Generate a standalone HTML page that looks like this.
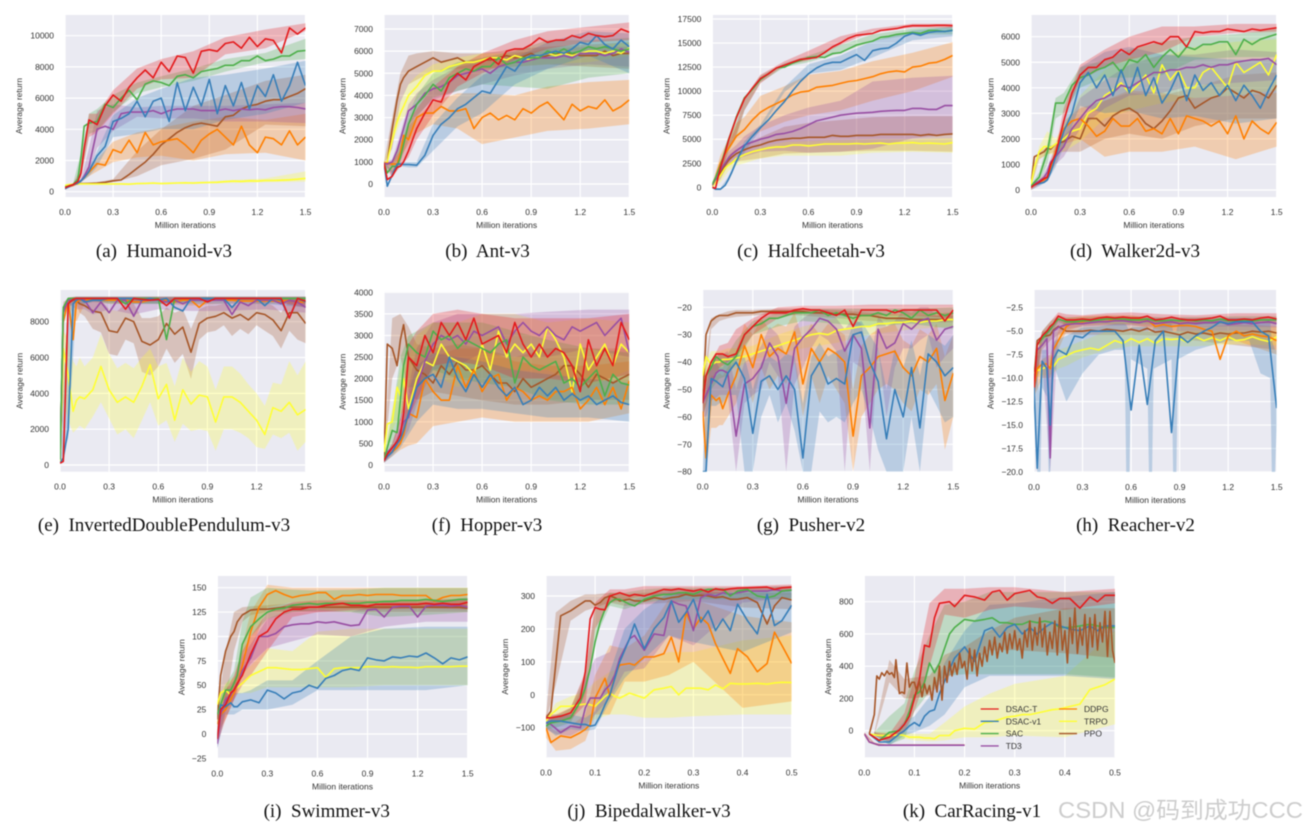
<!DOCTYPE html>
<html lang="en">
<head>
<meta charset="utf-8">
<title>Training curves</title>
<style>
html,body{margin:0;padding:0;background:#fff;width:1307px;height:832px;overflow:hidden}
svg{display:block;filter:blur(.45px)}
.cap{font-family:"Liberation Serif",serif;font-size:19px;fill:#111;text-anchor:middle}
.tick{font-family:"Liberation Sans",sans-serif;font-size:8.5px;fill:#333}
.wm{font-family:"Liberation Sans","Noto Sans CJK SC",sans-serif;font-size:23px;fill:#cdcdcd}
</style>
</head>
<body>
<svg id="figure" xmlns="http://www.w3.org/2000/svg" width="1307" height="832" viewBox="0 0 1307 832">
  <rect width="1307" height="832" fill="#fff"/>
  <g id="plots"></g>
  <text class="cap" x="164" y="257">(a)&#160; Humanoid-v3</text>
  <text class="cap" x="487.5" y="257">(b)&#160; Ant-v3</text>
  <text class="cap" x="811" y="257">(c)&#160; Halfcheetah-v3</text>
  <text class="cap" x="1135" y="257">(d)&#160; Walker2d-v3</text>
  <text class="cap" x="164" y="531">(e)&#160; InvertedDoublePendulum-v3</text>
  <text class="cap" x="487" y="531">(f)&#160; Hopper-v3</text>
  <text class="cap" x="811" y="531">(g)&#160; Pusher-v2</text>
  <text class="cap" x="1135.5" y="531">(h)&#160; Reacher-v2</text>
  <text class="cap" x="326.7" y="817">(i)&#160; Swimmer-v3</text>
  <text class="cap" x="649" y="817">(j)&#160; Bipedalwalker-v3</text>
  <text class="cap" x="972" y="817">(k)&#160; CarRacing-v1</text>
  <text class="wm" x="1058" y="818" textLength="245" lengthAdjust="spacingAndGlyphs">CSDN @码到成功CCC</text>
</svg>
<script>
// ---------- shared labels ----------
const seriesNames = ['DSAC-T','DSAC-v1','SAC','TD3','DDPG','TRPO','PPO'];
const xAxisTitle = 'Million iterations';
const yAxisTitle = 'Average return';

// ---------- iteration grids (million iterations) ----------
const xA = [0,.02,.05,.08,.1,.12,.15,.2,.25,.3,.35,.4,.45,.5,.55,.6,.65,.7,.75,.8,.85,.9,.95,1,1.05,1.1,1.15,1.2,1.25,1.3,1.35,1.4,1.45,1.5];
const xB = [0,.05,.1,.15,.2,.3,.45,.6,.8,1,1.25,1.5];
const xC = [0,.01,.03,.05,.07,.08,.09,.1,.11,.12,.13,.14,.15,.17,.18,.2,.22,.24,.255,.27,.285,.3,.315,.33,.345,.36,.375,.39,.41,.43,.45,.465,.48,.5];
const xD = [0,.02,.05,.08,.1,.13,.16,.2,.25,.3,.4,.5];
const xKBrown = [.01,.02,.025,.03,.035,.04,.045,.05,.055,.06,.063,.07,.075,.08,.085,.09,.095,.1,.105,.11,.115,.12,.125,.13,.135,.14,.145,.15,.155,.16,.165,.17,.175,.18,.185,.19,.195,.2,.205,.21,.215,.22,.225,.23,.235,.24,.245,.25,.255,.26,.265,.27,.275,.28,.285,.29,.295,.3,.305,.31,.315,.32,.325,.33,.335,.34,.345,.35,.355,.36,.365,.37,.375,.38,.385,.39,.395,.4,.405,.41,.415,.42,.425,.43,.435,.44,.445,.45,.455,.46,.465,.47,.475,.48,.485,.49,.495,.5];
const xHBlueBand = [0,.02,.04,.05,.08,.09,.1,.11,.13,.2,.3,.4,.5,.56,.57,.59,.6,.7,.71,.73,.74,.85,.86,.88,.89,1,1.2,1.33,1.4,1.46,1.47,1.49,1.5];

// ---------- tick values ----------
const xTicks15 = [0,.3,.6,.9,1.2,1.5];
const xTicks15Labels = ['0.0','0.3','0.6','0.9','1.2','1.5'];
const xTicks05 = [0,.1,.2,.3,.4,.5];
const xTicks05Labels = ['0.0','0.1','0.2','0.3','0.4','0.5'];
const aYTicks = [0,2000,4000,6000,8000,10000];
const aYLabels = ['0','2000','4000','6000','8000','10000'];
const bYTicks = [0,1000,2000,3000,4000,5000,6000,7000];
const bYLabels = ['0','1000','2000','3000','4000','5000','6000','7000'];
const cYTicks = [0,2500,5000,7500,10000,12500,15000,17500];
const cYLabels = ['0','2500','5000','7500','10000','12500','15000','17500'];
const dYTicks = [0,1000,2000,3000,4000,5000,6000];
const dYLabels = ['0','1000','2000','3000','4000','5000','6000'];
const eYTicks = [0,2000,4000,6000,8000];
const eYLabels = ['0','2000','4000','6000','8000'];
const fYTicks = [0,500,1000,1500,2000,2500,3000,3500,4000];
const fYLabels = ['0','500','1000','1500','2000','2500','3000','3500','4000'];
const gYTicks = [-20,-30,-40,-50,-60,-70,-80];
const gYLabels = ['−20','−30','−40','−50','−60','−70','−80'];
const hYTicks = [-2.5,-5,-7.5,-10,-12.5,-15,-17.5,-20];
const hYLabels = ['−2.5','−5.0','−7.5','−10.0','−12.5','−15.0','−17.5','−20.0'];
const iYTicks = [-25,0,25,50,75,100,125,150];
const iYLabels = ['−25','0','25','50','75','100','125','150'];
const jYTicks = [-100,0,100,200,300];
const jYLabels = ['−100','0','100','200','300'];
const kYTicks = [0,200,400,600,800];
const kYLabels = ['0','200','400','600','800'];

// ---------- (a) Humanoid-v3 ----------
const aRed=[250,350,450,650,1200,2800,4600,4300,5500,6200,5800,6700,7300,7800,7300,8300,7700,8700,8600,7600,9000,9100,9000,9500,9600,9200,9900,9300,9800,9700,8900,10500,10100,10500];
const aBlue=[200,300,450,550,700,900,1300,2300,2900,4500,4700,5000,5800,4800,5800,6000,4500,7000,5200,6700,5500,7200,5000,6800,5500,7000,5300,6800,6100,7500,5800,6800,8300,6800];
const aGreen=[300,350,450,800,2200,4200,4400,4500,5600,5400,6000,6500,5900,6900,7100,7000,6800,7400,7500,7300,7700,7800,7900,8100,8100,8400,8400,8700,8400,8500,8700,8700,9000,9050];
const aPurple=[200,300,450,550,700,1000,1600,4000,4200,4000,5000,5100,5100,5100,5200,5000,5200,5300,5300,5300,5200,5200,5200,5300,5200,5300,5250,5300,5250,5400,5450,5450,5400,5300];
const aOrange=[200,300,400,550,700,900,1250,1800,1700,2700,2500,3300,2500,3800,3000,3200,3300,3400,3000,2500,3300,3700,4000,3500,3000,4200,3000,2500,3500,3400,3000,3900,3000,3500];
const aYellow=[400,450,480,500,500,500,500,500,500,500,500,480,520,530,550,520,540,560,570,550,580,590,600,650,680,660,700,680,720,720,740,760,800,850];
const aBrown=[200,350,450,500,520,520,530,550,600,700,750,1100,1500,1900,2400,3000,3400,3800,4100,4300,4400,4300,4200,4800,4900,5300,5500,5600,5800,5900,5900,6100,6300,6600];
const aRedLo=[200,400,900,3500,3800,5000,6600,7200,7300,8800,9200,10300];
const aRedHi=[300,500,1500,5000,5000,6500,7900,8500,9000,9900,10400,10800];
const aBlueLo=[150,400,600,1000,1600,3500,3700,4000,4000,4600,5000,5700];
const aBlueHi=[250,500,800,1600,2600,4900,6000,6600,7300,7500,7900,8400];
const aGreenLo=[250,400,1000,3700,3900,5100,6300,6700,7100,7700,8300,8500];
const aGreenHi=[350,500,2500,5000,5300,6200,7000,7400,7900,8500,8900,9800];
const aPurpleLo=[150,400,600,1200,2800,3900,4800,4700,4700,4500,4500,4400];
const aPurpleHi=[250,500,800,2800,5200,5600,5400,5500,5500,5500,5600,5700];
const aOrangeLo=[150,350,600,1000,1300,1900,2200,2300,2000,2400,2500,2000];
const aOrangeHi=[250,450,800,1500,2100,3200,3800,4100,4500,4800,4600,5000];
const aYellowLo=[350,430,470,470,470,470,480,500,520,550,600,650];
const aYellowHi=[450,530,530,530,530,530,560,590,620,720,850,1300];
const aBrownLo=[150,400,500,500,500,600,1000,1700,2100,2700,4300,4200];
const aBrownHi=[250,500,540,560,600,800,2600,4000,5500,6200,7100,7500];

// ---------- (b) Ant-v3 ----------
const bRed=[950,200,350,750,800,1000,1500,2500,3200,3800,3700,4600,5000,4700,5300,5500,5700,5400,6000,6100,6100,6300,6600,6400,6500,6500,6700,6600,6800,6700,6650,6700,7000,6850];
const bBlue=[950,-100,400,900,900,880,880,850,1300,2200,2700,3000,3400,3600,3900,4200,4100,4700,5300,5100,5600,5800,5800,5900,6000,5900,6100,6400,6300,6700,6300,6100,6500,6200];
const bGreen=[950,500,800,800,1200,1800,2700,3600,4000,4500,4200,4800,5000,5200,5100,5300,5300,5700,5400,5500,5700,5700,5700,6000,5900,6100,5900,6000,6200,6100,6200,6100,6000,6100];
const bPurple=[950,900,1000,1500,2000,2500,3300,3600,4100,4300,4400,4600,4900,5000,5100,5200,5000,5300,5400,5500,5500,5600,5700,5700,5700,5800,5700,5900,5900,5900,5800,5900,6100,5950];
const bOrange=[950,950,900,900,1400,2200,2000,3000,3200,3200,3500,3300,3300,3400,2500,3000,3200,2900,3100,2900,3400,3200,3500,3700,3300,2900,3600,3300,3500,3400,3800,3300,3500,3800];
const bYellow=[950,1000,2000,2800,3200,3500,4000,4400,4900,5100,5100,5300,5400,5500,5500,5600,5700,5700,5600,5800,5700,5600,5800,5900,5800,5900,5800,5900,6000,6000,5900,6000,5900,6150];
const bBrown=[950,1000,2500,3800,4500,4800,5100,5300,5500,5700,5500,5600,5700,5500,5500,5600,5600,5700,5800,5700,5750,5900,5700,5800,5900,5900,5900,5800,5800,5800,6000,5800,5900,5900];
const bRedLo=[900,300,800,1200,2000,3100,4400,5000,5600,6100,6400,6500];
const bRedHi=[1000,1000,1500,2800,3400,4400,5300,5900,6500,6900,7100,7300];
const bBlueLo=[900,400,800,750,750,1500,2600,3200,4500,5200,5800,5000];
const bBlueHi=[1000,600,1000,1000,1000,2700,3900,4900,5700,6400,6900,6800];
const bGreenLo=[900,500,1000,2000,3000,3900,4200,4500,4400,4300,4800,5000];
const bGreenHi=[1000,900,1800,3100,4000,5000,5500,5700,6000,6500,6500,6600];
const bPurpleLo=[900,900,1500,2700,3100,3800,4200,4500,4900,5200,5400,5300];
const bPurpleHi=[1000,1100,2300,3600,4100,4700,5300,5500,5900,6100,6200,6200];
const bOrangeLo=[900,800,1200,1800,2300,2700,2500,1800,2100,2400,2500,2700];
const bOrangeHi=[1000,1000,1900,2600,3000,3700,4100,4100,4000,4400,4600,4700];
const bYellowLo=[900,1800,2800,3300,3800,4500,5000,5200,5300,5400,5500,5800];
const bYellowHi=[1000,2300,3700,4500,4900,5400,5700,5900,5900,6100,6200,6400];
const bBrownLo=[900,1600,3700,4500,4700,5100,5200,5200,5300,5400,5300,5200];
const bBrownHi=[1000,3000,5000,5800,5900,6000,5900,5900,6100,6200,6300,6400];

// ---------- (c) Halfcheetah-v3 ----------
const cRed=[0,-100,2000,3600,4800,5800,7200,9200,10300,11300,11800,12400,12700,13000,13300,13400,13500,14000,14600,15000,15500,15800,15900,16000,16300,16400,16500,16700,16800,16800,16800,16850,16850,16800];
const cBlue=[0,-200,-200,200,800,1500,2700,4300,5300,6200,7000,8000,8900,10000,11000,11800,12400,12800,13000,13000,13400,13800,13200,14200,14400,14500,15000,15700,16000,15800,16100,16200,16200,16300];
const cGreen=[300,1000,2200,3800,4900,5800,7300,9300,10200,11200,11800,12400,12500,12900,13200,13500,13600,13500,13900,14000,14400,14800,15000,15200,15600,15700,15900,16000,16100,16000,16300,16300,16200,16350];
const cPurple=[200,800,1800,2500,3000,3400,3800,4400,4700,5000,5200,5500,5600,5800,6100,6500,6900,7100,7300,7500,7600,7700,7750,7800,7900,7950,8000,8000,8200,8200,8100,8100,8500,8500];
const cOrange=[300,1000,2500,3500,4000,4500,5300,6000,7000,7800,8300,8700,9100,9600,9900,10000,10400,10500,10600,10800,11000,11100,11300,11500,11800,12000,12100,12000,12500,12600,12900,13000,13300,13700];
const cYellow=[100,500,1200,2000,2300,2500,3000,3400,3700,3900,4100,4200,4200,4400,4400,4300,4400,4500,4500,4500,4500,4550,4500,4550,4600,4500,4600,4600,4650,4550,4600,4550,4500,4650];
const cBrown=[100,700,1500,2300,2800,3100,3500,3900,4200,4400,4700,4900,5000,5100,5100,5200,5200,5200,5400,5300,5300,5400,5400,5400,5500,5500,5500,5500,5500,5400,5500,5400,5500,5550];
const cRedLo=[0,1200,3800,5500,8000,10800,12700,13200,14800,16200,16600,16600];
const cRedHi=[0,1800,4500,6400,9300,11700,13100,14200,15700,16500,17000,17000];
const cBlueLo=[0,-300,600,2400,3600,6000,9900,11800,12200,13500,15300,15700];
const cBlueHi=[0,-100,1100,2900,4800,6500,10400,12800,13700,15200,16300,16700];
const cGreenLo=[200,1300,3700,5200,8000,10900,12500,13000,14000,15200,15900,15900];
const cGreenHi=[400,2000,4800,6800,9300,11600,12900,13700,14800,15900,16500,16700];
const cPurpleLo=[100,800,2400,3000,3200,3700,3800,3600,3700,4000,5100,5500];
const cPurpleHi=[300,2000,3700,4400,5300,6400,7500,8300,9000,11000,11400,11600];
const cOrangeLo=[200,1200,2400,4000,4600,5800,6800,7500,8000,9000,10000,11500];
const cOrangeHi=[400,3300,5000,6700,7300,9500,10500,11700,12100,13100,14000,15100];
const cYellowLo=[0,500,1700,2300,2500,3000,3300,3300,3300,3600,3700,3600];
const cYellowHi=[200,1000,2500,3000,3500,4200,4700,4800,4900,5000,5000,5100];
const cBrownLo=[0,1000,2300,2700,2800,3000,3500,3600,3700,3800,3800,3700];
const cBrownHi=[200,1800,3300,4000,4500,5200,6300,6700,7000,7300,7400,7400];

// ---------- (d) Walker2d-v3 ----------
const dRed=[100,200,300,450,500,1000,1400,2700,3800,4500,4800,4800,5100,5200,5500,5300,5600,5700,5800,5700,6000,6000,5600,6200,6150,6200,6200,6300,6250,6200,6300,6250,6300,6350];
const dBlue=[100,200,250,300,400,700,1300,2300,3000,4200,4600,4000,4500,3700,4700,3800,4800,3700,4400,3400,3900,4600,3500,4500,3900,4200,3700,4100,3500,4100,3700,3200,3900,4500];
const dGreen=[150,300,500,1100,1500,2200,3400,3400,4100,4400,4500,4700,4800,5000,4600,5100,5000,5300,4800,5200,5500,5200,5600,5500,5700,5700,5800,5800,5300,5900,5700,5900,6000,6100];
const dPurple=[150,250,350,500,700,1100,1300,1700,2400,2800,3200,3500,3600,3800,4100,4000,4200,4400,4600,4600,4700,4700,4800,4800,4900,4800,4900,4900,5000,5050,5100,5100,5150,4900];
const dOrange=[100,200,300,400,500,800,1500,2400,2700,2800,2500,2100,2300,2800,2500,2500,2800,2300,2400,2200,2800,2200,2900,2800,2700,2500,2700,2200,2900,2000,2700,2400,2200,2650];
const dYellow=[200,900,1500,1700,1700,1650,1800,2000,2300,2400,3000,3200,3700,3900,4200,3800,4100,4500,3800,4900,4300,4700,4000,4000,4600,4800,4400,4000,5000,4600,4800,5000,4500,5300];
const dBrown=[200,1300,1400,1500,1650,1600,1800,1900,2100,2000,2800,2800,2500,2900,3100,3200,3000,2600,2400,2700,3100,3600,3700,3200,3400,3600,3700,4000,3800,3600,3900,3800,3600,4100];
const dRedLo=[0,200,400,1200,2800,4300,4800,5100,5400,6000,6150,6200];
const dRedHi=[200,400,600,1600,3200,4900,5500,6000,6400,6400,6500,6500];
const dBlueLo=[0,150,350,900,1700,3300,3000,3100,2800,2900,2600,2800];
const dBlueHi=[200,350,600,1600,2800,4800,5400,5600,5300,5200,5100,5100];
const dGreenLo=[100,350,1000,2800,3000,4000,4400,4400,4500,5100,5200,5200];
const dGreenHi=[200,700,1800,3600,3800,4800,5100,5500,5800,6000,6100,6300];
const dPurpleLo=[100,300,600,1000,1300,2400,3200,3700,3800,4100,4200,4300];
const dPurpleHi=[200,400,900,1700,2200,3600,4300,4900,5300,5300,5500,5400];
const dOrangeLo=[50,250,400,1000,1800,2000,1300,1500,1500,1700,1200,1700];
const dOrangeHi=[150,400,700,1800,2700,3200,3500,3900,3800,3600,3700,3800];
const dYellowLo=[100,1200,1400,1400,1500,1900,2800,3100,3400,3600,3700,3900];
const dYellowHi=[300,1700,2300,2000,2500,3700,4700,5200,5200,5600,5800,5900];
const dBrownLo=[100,1200,1400,1500,1500,1500,2000,2200,2000,2500,2800,2800];
const dBrownHi=[300,1500,1700,1800,2100,2800,3500,3800,3700,4000,4500,4600];

// ---------- (e) InvertedDoublePendulum-v3 ----------
const eRed=[100,200,9000,9250,9300,9300,9300,9300,9300,9300,9300,8700,9300,9250,9200,9250,8900,9300,9300,9300,9300,9100,9300,9300,9300,9300,9300,9300,9300,9300,9300,8200,9300,9150];
const eBlue=[100,400,2000,9000,9200,9300,9100,9200,9200,9300,9300,9300,9300,9200,9300,9200,9300,8800,8600,9300,9300,9300,9300,9300,8800,9300,9300,9300,8900,9300,9200,8200,9300,9100];
const eGreen=[300,8800,9300,9300,9300,9300,9300,9300,9300,9300,9300,9000,9300,9300,9300,9300,7000,9300,9300,9300,9300,9300,9300,9300,9300,9300,9300,9300,9300,9300,9300,9300,9300,9300];
const ePurple=[300,8500,9200,9250,9250,9250,9200,8500,9100,8500,9200,9200,8300,9200,9200,9200,9100,9200,9000,9200,9200,9200,9200,9200,8400,9100,8900,9200,9200,9200,9000,9200,9100,8800];
const eOrange=[300,8000,9200,7000,9100,9200,9200,9200,9200,9200,9200,9200,9100,9100,9200,9200,9200,9100,9200,9200,8800,9200,9200,9200,9200,9150,9150,9150,9150,9150,9150,9200,9100,9100];
const eYellow=[200,6500,5000,3000,3600,3800,3700,4200,5500,4200,3500,3800,3500,4400,5600,3700,4500,2500,4200,3400,3900,3800,2400,3800,3800,3500,3000,2500,1700,3200,3000,3500,2800,3100];
const eBrown=[300,8700,9100,9200,9200,9000,8900,8600,8500,7500,7400,8200,8000,6900,6700,7000,7900,7300,7700,6300,7900,8200,8300,8500,8200,8400,8100,8500,8400,8100,7500,8500,8500,7900];
const eRedLo=[100,9000,9200,9200,9200,9200,9100,9200,9200,9200,9200,8800];
const eRedHi=[200,9350,9400,9400,9400,9400,9400,9400,9400,9400,9400,9400];
const eBlueLo=[100,1500,9000,9000,9100,9100,9000,9000,9000,9000,9000,8800];
const eBlueHi=[200,9300,9400,9400,9400,9400,9400,9400,9400,9400,9400,9400];
const eGreenLo=[200,9200,9200,9200,9200,9000,9000,9000,9100,9200,9100,9100];
const eGreenHi=[300,9350,9400,9400,9400,9400,9400,9400,9400,9400,9400,9400];
const ePurpleLo=[200,9000,8700,8700,8400,8700,8400,8700,8600,8600,8700,8500];
const ePurpleHi=[300,9300,9350,9350,9350,9350,9350,9350,9350,9350,9350,9350];
const eOrangeLo=[200,9000,8000,9000,9100,9000,9000,9000,8900,9000,9000,9000];
const eOrangeHi=[300,9250,9300,9300,9300,9300,9300,9300,9300,9300,9300,9300];
const eYellowLo=[100,3500,2500,1800,2000,2200,2000,2700,3500,2600,1700,2000,1500,2500,3500,2200,2500,1300,2300,1900,2000,1900,800,2000,2000,1800,1500,1000,900,1700,1500,1800,800,1300];
const eYellowHi=[300,7500,7000,5800,5500,6000,5500,6000,7300,6200,5400,5700,5400,6000,6500,5500,5700,4400,6000,5200,5800,5500,4200,5500,5500,5100,4500,4000,3300,4600,4500,5800,5000,5800];
const eBrownLo=[200,7800,8800,9000,9000,8500,8300,7600,7400,6200,6100,7000,6800,5200,5000,5500,6500,5700,6200,4800,7000,7400,7500,7800,7200,7600,7300,7800,7500,7200,6500,7500,7000,6800];
const eBrownHi=[300,9100,9300,9300,9300,9250,9250,9200,9200,8700,8600,9000,9000,8200,8200,8300,8800,8500,8700,7600,8700,8900,8900,9000,8900,9000,9000,9200,9100,8900,8500,9200,9200,9100];

// ---------- (f) Hopper-v3 ----------
const fRed=[100,250,400,550,700,1200,2500,2300,3000,2600,3300,3000,3300,2900,3400,2800,2900,3000,2600,3300,2800,2500,2800,2500,2700,2600,2300,1700,2900,2300,2700,2300,3300,2900];
const fBlue=[100,200,300,500,600,800,1200,1800,2000,2100,1800,2500,2000,1700,2100,1800,2100,1800,1600,1800,1400,1500,1800,1600,1800,1500,1650,1500,1600,1400,1500,1600,1450,1400];
const fGreen=[100,400,800,750,1500,2300,2800,2600,2500,3100,2900,3000,2700,2900,2800,2700,2600,2800,2900,1900,2500,2300,2200,2300,2400,1900,2000,1800,2000,2200,1600,2100,1900,1850];
const fPurple=[100,300,400,500,800,1000,1100,1800,2400,2800,3000,2900,3000,2800,3100,3000,3100,3200,2800,3100,3300,3100,3000,3200,3000,2900,3200,3100,3200,3300,3000,3200,3400,2600];
const fOrange=[100,250,300,400,500,700,1200,1100,2000,1700,1500,1500,2300,1800,2200,1700,2000,2100,1500,1800,1700,1500,1600,1500,1700,1700,1800,1300,1500,1800,1400,1800,1300,1950];
const fYellow=[300,950,1000,1800,1600,2000,1300,2000,2400,2300,2800,2500,2400,2300,2100,2800,2200,3100,2500,2800,2600,2800,2500,3200,2900,2500,1700,2800,2200,2500,2800,2300,2800,2600];
const fBrown=[100,2800,2700,2300,2900,3250,2500,2200,2100,1900,2300,2100,2400,2200,2200,2300,2100,1900,1900,1700,2000,1800,1900,2000,2100,2300,2300,2100,1800,2100,2000,1900,2000,2100];
const fRedLo=[50,300,500,1100,1500,2300,2400,2300,2000,2000,1900,2100];
const fRedHi=[150,500,1100,2800,3100,3500,3600,3500,3400,3400,3400,3500];
const fBlueLo=[50,200,400,700,1000,1400,1300,1300,1200,1100,1100,1000];
const fBlueHi=[150,400,800,1700,2300,2600,2500,2400,2200,2100,2000,1900];
const fGreenLo=[50,400,1000,1800,1800,2200,2000,1900,1800,1500,1400,1400];
const fGreenHi=[150,1200,2500,3000,3100,3300,3300,3300,3100,2900,2700,2600];
const fPurpleLo=[50,250,500,800,1400,2200,2300,2600,2500,2500,2700,2500];
const fPurpleHi=[150,500,1100,1800,2700,3300,3500,3500,3500,3550,3600,3600];
const fOrangeLo=[50,200,350,450,500,900,1000,1100,1000,1000,1000,1200];
const fOrangeHi=[150,400,800,1600,2000,2500,2700,2700,2400,2300,2300,2400];
const fYellowLo=[100,800,1200,1200,1700,2100,1800,2200,2200,2200,1800,2200];
const fYellowHi=[300,1300,2200,2500,3000,3300,3300,3500,3500,3300,3400,3300];
const fBrownLo=[100,2000,2500,1700,1500,1700,1600,1500,1400,1400,1500,1500];
const fBrownHi=[300,3400,3500,3200,2800,2700,2800,2700,2500,2700,2700,2700];

// ---------- (g) Pusher-v2 ----------
const gRed=[-55,-45,-40,-37,-37,-37,-38,-37,-30,-27,-24,-22,-22,-22,-21,-20.5,-21,-21,-22,-23,-21,-27,-21,-21,-21,-21,-22,-21,-21,-21,-21,-21,-25,-21];
const gBlue=[-80,-80,-46,-47,-48,-49,-44,-40,-46,-66,-47,-45,-50,-45,-50,-75,-45,-40,-48,-46,-48,-30,-29,-40,-47,-68,-50,-60,-42,-64,-37,-40,-45,-42];
const gGreen=[-55,-45,-42,-38,-39,-40,-41,-38,-30,-27,-26,-24,-24,-23,-22,-22,-22,-21,-23,-22,-23,-24,-23,-23,-22,-23,-21,-22,-24,-21,-23,-22,-23,-22];
const gPurple=[-55,-52,-48,-44,-43,-43,-44,-67,-48,-46,-42,-33,-38,-55,-35,-31,-28,-24,-25,-28,-36,-30,-35,-64,-28,-35,-33,-26,-28,-25,-24,-32,-28,-27];
const gOrange=[-58,-75,-52,-54,-53,-57,-52,-45,-34,-42,-30,-38,-35,-37,-29,-48,-35,-40,-35,-37,-40,-67,-45,-42,-38,-37,-36,-42,-45,-38,-40,-35,-54,-44];
const gYellow=[-45,-38,-41,-40,-40,-39,-39,-38.5,-38,-37,-36,-35,-34,-33,-32,-31,-30,-29.5,-30,-28.5,-28,-27.5,-27,-27,-26,-26,-25.5,-25.5,-25,-25.5,-25,-25,-24.5,-24.5];
const gBrown=[-55,-30,-25,-23.5,-23,-23,-23,-22,-22,-22,-21.5,-21.5,-21.5,-21.5,-21.5,-21.5,-22,-22,-22,-22.5,-22.5,-22.5,-23,-23,-23.5,-24,-24,-24,-24.5,-24.5,-24.5,-24.5,-24.5,-24.5];
const gRedLo=[-60,-48,-42,-40,-38,-30,-24,-22,-23,-23,-23,-24];
const gRedHi=[-50,-40,-34,-33,-28,-24,-20,-19.5,-19.5,-19,-19,-19];
const gBlueLo=[-80,-80,-56,-56,-55,-55,-52,-52,-80,-80,-60,-52,-62,-55,-65,-80,-80,-58,-62,-60,-62,-55,-50,-60,-72,-80,-80,-80,-60,-80,-50,-56,-62,-60];
const gBlueHi=[-80,-50,-40,-40,-42,-42,-38,-37,-38,-50,-40,-38,-40,-37,-38,-55,-38,-33,-38,-36,-35,-26,-25,-30,-35,-50,-35,-42,-32,-45,-30,-32,-34,-30];
const gGreenLo=[-60,-50,-46,-45,-40,-30,-27,-25,-26,-27,-26,-28];
const gGreenHi=[-50,-40,-37,-37,-32,-25,-22,-20.5,-20.5,-20.5,-20.5,-20];
const gPurpleLo=[-60,-60,-54,-53,-52,-52,-52,-80,-55,-52,-50,-40,-45,-80,-48,-42,-35,-30,-32,-36,-80,-40,-42,-80,-35,-60,-42,-35,-35,-32,-30,-42,-38,-35];
const gPurpleHi=[-50,-44,-42,-38,-37,-37,-36,-50,-40,-38,-34,-27,-30,-38,-27,-24,-22,-21,-21,-24,-28,-24,-26,-42,-23,-27,-25,-21,-22,-20,-20,-23,-22,-22];
const gOrangeLo=[-60,-80,-64,-64,-63,-63,-60,-55,-45,-55,-42,-50,-45,-48,-40,-60,-45,-55,-45,-50,-55,-80,-60,-55,-50,-48,-50,-55,-58,-50,-52,-48,-72,-60];
const gOrangeHi=[-55,-55,-45,-45,-44,-45,-42,-36,-26,-30,-24,-28,-26,-27,-22,-32,-26,-30,-26,-28,-30,-50,-34,-30,-28,-27,-26,-32,-34,-28,-30,-26,-38,-30];
const gYellowLo=[-50,-43,-43,-43,-42,-39,-37,-35,-33,-30,-28,-27];
const gYellowHi=[-42,-36,-36,-35,-35,-34,-30,-27,-24,-23,-22,-22];
const gBrownLo=[-60,-28,-25,-24,-23.5,-23,-22.5,-23,-24,-25,-25.5,-25.5];
const gBrownHi=[-50,-24,-22.5,-21.5,-21,-21,-20.5,-20.5,-21,-22,-23,-23];

// ---------- (h) Reacher-v2 ----------
const hRed=[-11,-6.5,-5.5,-5,-4.5,-4.2,-3.4,-3.8,-3.8,-3.7,-3.8,-3.6,-3.5,-3.6,-3.5,-3.6,-3.6,-3.4,-3.8,-3.7,-3.5,-3.7,-3.8,-3.8,-3.7,-3.6,-3.4,-3.8,-3.8,-3.7,-3.8,-3.6,-3.5,-3.7];
const hBlue=[-11,-19.6,-8.2,-9,-15,-8,-7,-7.5,-5.5,-5.7,-5,-5,-5,-5,-6,-13.4,-6.5,-12.8,-6,-5,-15.8,-5.5,-6.2,-5.5,-5,-4.6,-4,-4.2,-4,-4,-4,-5,-5.5,-13.2];
const hGreen=[-11,-6.5,-5.8,-5.2,-4.8,-4.3,-3.7,-4,-4,-3.9,-3.9,-3.8,-3.7,-3.7,-3.7,-3.8,-3.8,-3.7,-3.9,-3.9,-3.8,-3.9,-3.8,-3.9,-3.8,-3.9,-3.7,-3.9,-3.9,-3.8,-3.9,-3.8,-3.8,-3.8];
const hPurple=[-11,-7,-6.5,-5.8,-18.5,-5,-4.6,-4.3,-4.2,-4.2,-4.1,-4,-4,-3.9,-3.9,-4,-4.1,-3.9,-4.2,-4.1,-4,-4.2,-4.1,-4.2,-4.1,-4.1,-4,-4.3,-4.2,-4.1,-4.2,-4.1,-4,-4.2];
const hOrange=[-11,-9,-8.5,-8.5,-9,-7,-6,-4.5,-4,-4,-3.8,-3.8,-3.7,-3.9,-3.7,-3.8,-3.7,-3.8,-4.5,-4.3,-4.5,-4.4,-4.4,-4.5,-4.8,-5,-8,-5.5,-5,-5.5,-5.3,-5.5,-5.6,-6];
const hYellow=[-9.5,-9.2,-9,-8.8,-8.7,-8.8,-8,-7.6,-7.2,-7,-6.8,-7,-6.5,-6,-6.3,-5.8,-6.2,-5.8,-6.3,-5.8,-5.9,-5.8,-6.2,-5.6,-6,-5.7,-6,-5.6,-6,-5.9,-5.6,-5.9,-6.1,-5.6];
const hBrown=[-10,-6,-5.6,-5.5,-5.4,-4.9,-4.5,-5,-5,-5,-4.9,-5,-4.8,-4.9,-5,-4.8,-5,-4.7,-5.1,-5,-5.2,-5.4,-5.1,-5.3,-5.2,-5.4,-5.2,-5.3,-5.2,-5.2,-5,-5.1,-5,-5.2];
const hRedLo=[-12,-6,-5,-4,-4.3,-4.2,-4,-4,-4.2,-4.2,-4.1,-4.2];
const hRedHi=[-9,-5,-4,-3,-3.2,-3.3,-3.1,-3,-3.2,-3.3,-3.1,-3.1];
const hBlueLo=[-12,-20,-20,-11,-12,-20,-20,-11,-9,-12.5,-9.5,-7.5,-7,-7,-20,-20,-8,-9,-20,-20,-9,-8,-20,-20,-8,-7,-6,-6,-9.5,-10,-20,-20,-15];
const hBlueHi=[-9,-10,-12,-7,-7,-9,-9,-6.5,-6,-5.5,-4.6,-4.5,-4.2,-4.2,-4.3,-5,-4.6,-4.5,-5,-5,-4.5,-4.2,-5,-5,-4.2,-4,-3.6,-3.6,-4,-4,-6,-7,-7];
const hGreenLo=[-12,-6.5,-5.5,-4,-4.4,-4.2,-4.2,-4.2,-4.3,-4.3,-4.2,-4.2];
const hGreenHi=[-9,-5,-4,-3.3,-3.5,-3.5,-3.4,-3.4,-3.5,-3.5,-3.4,-3.4];
const hPurpleLo=[-12,-8,-20,-5.3,-4.8,-4.5,-4.4,-4.4,-4.6,-4.5,-4.5,-4.6];
const hPurpleHi=[-9,-6,-4.7,-3.8,-3.7,-3.7,-3.5,-3.5,-3.6,-3.6,-3.6,-3.6];
const hOrangeLo=[-12,-10,-10,-7,-5,-4.4,-4.3,-4.3,-4.9,-5.2,-6,-7.5];
const hOrangeHi=[-9,-8,-7.5,-5,-3.6,-3.4,-3.3,-3.3,-3.8,-3.9,-4.2,-4.5];
const hYellowLo=[-10,-9.7,-9.7,-9,-8.7,-7.8,-7,-6.6,-6.6,-6.6,-6.4,-6.5];
const hYellowHi=[-9,-8.6,-7.8,-7,-6.7,-6,-5,-5,-5,-5,-5,-5];
const hBrownLo=[-12,-7,-6,-5.4,-5.3,-5.4,-5.4,-5.4,-5.5,-6,-6.5,-7];
const hBrownHi=[-9,-5,-4.8,-4,-4.2,-4.2,-4.1,-4.1,-4.2,-4.5,-4.3,-4.2];

// ---------- (i) Swimmer-v3 ----------
const iRed=[-5,25,30,42,45,52,60,82,100,105,118,125,128,128,130,130,132,133,134,132,132,131,133,133,133,133,133,133,134,133,134,133,133,135];
const iBlue=[-5,30,28,32,28,28,33,35,32,45,42,36,42,44,50,47,57,60,65,67,65,78,76,75,79,78,80,79,83,78,72,78,76,79];
const iGreen=[20,30,45,45,52,60,92,110,118,125,128,129,132,133,134,133,134,134,134,134,134,135,135,136,136,137,137,137,138,137,136,137,138,138];
const iPurple=[-10,20,35,40,45,50,65,78,100,100,103,110,112,113,113,115,114,115,113,111,112,127,128,120,130,131,131,120,131,132,132,131,132,130];
const iOrange=[10,20,25,35,42,50,70,105,130,143,147,143,140,142,143,145,145,138,142,142,143,142,143,143,143,142,142,142,142,136,140,142,142,143];
const iYellow=[30,42,45,40,44,48,52,60,64,68,68,67,66,66,67,68,58,67,68,68,68,69,69,68.5,69,68.5,68.5,68,69,69,69,69,69.5,69.5];
const iBrown=[15,60,85,100,105,115,122,127,128,128,129,130,130,130,130,130,130,130,130,130,130,130,130,130,130,130,130,130,130,130,130,130,130,129];
const iRedLo=[-10,15,35,50,60,85,120,125,127,128,129,128];
const iRedHi=[10,45,60,85,100,125,135,137,137,137,138,138];
const iBlueLo=[-15,20,20,25,25,25,30,45,45,45,45,50];
const iBlueHi=[5,38,42,42,45,55,55,75,100,108,110,110];
const iGreenLo=[10,25,40,80,100,118,125,127,125,120,122,125];
const iGreenHi=[30,50,65,115,140,150,148,147,148,150,150,150];
const iPurpleLo=[-15,25,35,60,72,88,95,102,100,110,115,115];
const iPurpleHi=[5,45,55,80,92,118,128,128,125,135,135,140];
const iOrangeLo=[0,15,35,60,85,130,135,132,130,130,130,130];
const iOrangeHi=[20,35,55,90,125,153,150,150,150,150,150,150];
const iYellowLo=[20,38,40,42,42,48,48,48,48,50,50,50];
const iYellowHi=[35,52,58,65,70,88,85,105,108,108,108,108];
const iBrownLo=[10,30,85,115,122,125,126,125,125,125,125,125];
const iBrownHi=[20,85,125,130,131,132,134,134,133,133,134,133];

// ---------- (j) Bipedalwalker-v3 ----------
const jRed=[-70,-70,-65,-55,-10,70,230,265,260,258,300,305,310,300,305,300,310,320,318,322,318,315,320,312,322,318,322,324,325,326,327,320,325,327];
const jBlue=[-85,-80,-80,-85,-90,-90,-95,-92,-65,-30,0,50,100,170,215,140,200,235,285,220,250,290,220,255,195,230,195,275,225,185,305,210,225,272];
const jGreen=[-95,-85,-80,-70,-20,20,80,160,220,260,280,290,290,275,270,290,300,305,305,310,310,305,315,320,320,320,300,315,320,300,295,300,315,318];
const jPurple=[-85,-90,-115,-95,-100,-40,-10,-10,-10,15,30,60,110,170,180,135,185,180,285,275,270,195,295,305,300,310,305,310,315,315,315,320,315,318];
const jOrange=[-100,-145,-125,-130,-115,-105,-90,-10,20,50,-5,60,90,95,90,115,115,125,175,100,250,200,235,215,155,110,65,140,115,70,95,190,150,95];
const jYellow=[-80,-60,-35,-35,-30,-28,-30,-35,-20,-5,5,-5,-10,5,0,-10,15,20,25,0,20,20,20,15,30,18,35,33,33,35,32,36,38,37];
const jBrown=[-70,-50,240,255,275,285,285,272,280,295,300,295,285,290,285,285,295,290,295,298,305,300,302,300,295,298,290,290,295,280,215,270,295,288];
const jRedLo=[-80,-80,-75,-30,200,280,290,300,305,300,315,315];
const jRedHi=[-60,-60,-40,70,280,320,320,330,330,330,330,335];
const jBlueLo=[-100,-125,-105,-110,-105,-20,50,110,180,160,130,190];
const jBlueHi=[-70,-60,-60,-70,-50,70,200,260,310,310,310,320];
const jGreenLo=[-105,-100,-85,0,170,270,260,280,290,290,290,290];
const jGreenHi=[-85,-65,-40,60,260,310,310,320,325,325,325,330];
const jPurpleLo=[-105,-120,-125,-100,-60,-10,70,80,180,150,280,295];
const jPurpleHi=[-70,-70,-60,50,110,130,280,300,320,320,325,330];
const jOrangeLo=[-130,-170,-165,-140,-60,-60,40,40,60,100,-40,-20];
const jOrangeHi=[-90,-110,-95,-60,60,150,140,180,290,290,240,220];
const jYellowLo=[-85,-90,-85,-85,-75,-60,-60,-70,-70,-65,-60,-60];
const jYellowHi=[-75,-25,-5,10,40,70,85,100,130,130,165,180];
const jBrownLo=[-80,30,225,255,265,280,270,275,280,285,265,260];
const jBrownHi=[-60,250,285,305,305,310,305,310,310,315,310,310];

// ---------- (k) CarRacing-v1 ----------
const kRed=[null,-20,-60,-40,5,40,90,200,320,530,520,700,790,800,770,840,830,810,860,870,810,850,860,870,830,820,790,820,820,760,830,800,840,840];
const kBlue=[null,-20,-70,-70,-20,0,30,50,30,90,120,130,230,380,450,520,430,620,640,580,640,660,600,640,600,640,670,650,630,620,650,620,650,650];
const kGreen=[null,-20,-60,-10,0,40,120,220,240,300,420,360,420,600,640,690,680,690,700,670,670,660,660,680,670,680,670,640,640,650,660,650,640,640];
const kPurple=[-20,-70,-90,-90,-90,-90,-90,-90,-90,-90,-90,-90,-90,-90,-90,-90,null,null,null,null,null,null,null,null,null,null,null,null,null,null,null,null,null,null];
const kOrange=[-20,-70,-90,-90,-90,-90,-90,-90,-90,-90,-90,-90,-90,-90,-90,-90,null,null,null,null,null,null,null,null,null,null,null,null,null,null,null,null,null,null];
const kYellow=[null,-20,-30,-30,-25,-30,-40,-40,-40,-45,-45,-50,-30,-30,0,15,10,50,55,70,85,90,100,100,110,120,130,135,150,165,255,270,285,320];
const kBrownMean=[-20,100,340,320,360,340,370,350,360,330,440,230,240,230,420,270,300,300,240,310,210,290,230,280,190,330,240,400,190,400,300,430,340,420,350,480,390,430,320,510,370,500,340,480,400,520,430,560,470,580,450,540,490,610,480,600,510,620,500,570,450,620,520,680,500,640,530,700,520,660,470,610,510,680,470,740,500,620,420,700,540,760,480,640,530,720,450,700,520,720,500,670,550,740,460,740,500,420];
const kRedLo=[null,-30,-70,-10,120,400,720,700,750,770,750,790];
const kRedHi=[null,-10,-20,110,330,790,880,880,890,890,860,880];
const kBlueLo=[null,-30,-90,-30,-10,30,100,270,340,340,340,320];
const kBlueHi=[null,-10,-50,60,90,210,420,620,780,790,830,860];
const kGreenLo=[null,-30,-85,-50,120,240,340,350,350,350,350,330];
const kGreenHi=[null,-10,90,170,370,590,780,800,860,860,860,860];
const kPurpleLo=[-30,-85,-92,-92,-92,-92,-92,-92,null,null,null,null];
const kPurpleHi=[-10,-75,-88,-88,-88,-88,-88,-88,null,null,null,null];
const kOrangeLo=[-30,-85,-92,-92,-92,-92,-92,-92,null,null,null,null];
const kOrangeHi=[-10,-75,-88,-88,-88,-88,-88,-88,null,null,null,null];
const kYellowLo=[null,-30,-50,-50,-60,-65,-60,-40,-40,-30,-40,40];
const kYellowHi=[null,-10,-10,-10,-20,-20,50,150,230,290,340,620];
const kBrownLo=[null,-30,300,200,200,220,320,400,500,500,480,450];
const kBrownHi=[null,-10,440,320,330,340,470,520,620,700,760,760];

// ---------- drawing ----------
const colors = ['#e41a1c','#377eb8','#4daf4a','#984ea3','#ff7f00','#ffff33','#a65628'];
const slugs = ['dsac-t','dsac-v1','sac','td3','ddpg','trpo','ppo'];
const NS = 'http://www.w3.org/2000/svg';
const plotsGroup = document.getElementById('plots');

const panels = [
 {key:'a',box:[65,305.5,15,197],yRef:[0,191.7,10000,35.7],ylx:19,xMax:1.5,xT:xTicks15,xL:xTicks15Labels,yT:aYTicks,yL:aYLabels,gx:xA,bx:xB,means:[aRed,aBlue,aGreen,aPurple,aOrange,aYellow,aBrown],lows:[aRedLo,aBlueLo,aGreenLo,aPurpleLo,aOrangeLo,aYellowLo,aBrownLo],highs:[aRedHi,aBlueHi,aGreenHi,aPurpleHi,aOrangeHi,aYellowHi,aBrownHi]},
 {key:'b',box:[384,629.3,15,197],yRef:[0,184,7000,29],ylx:342.7,xMax:1.5,xT:xTicks15,xL:xTicks15Labels,yT:bYTicks,yL:bYLabels,gx:xA,bx:xB,means:[bRed,bBlue,bGreen,bPurple,bOrange,bYellow,bBrown],lows:[bRedLo,bBlueLo,bGreenLo,bPurpleLo,bOrangeLo,bYellowLo,bBrownLo],highs:[bRedHi,bBlueHi,bGreenHi,bPurpleHi,bOrangeHi,bYellowHi,bBrownHi]},
 {key:'c',box:[712.3,952.7,15,197],yRef:[0,187.3,17500,19],ylx:666.7,xMax:1.5,xT:xTicks15,xL:xTicks15Labels,yT:cYTicks,yL:cYLabels,gx:xA,bx:xB,means:[cRed,cBlue,cGreen,cPurple,cOrange,cYellow,cBrown],lows:[cRedLo,cBlueLo,cGreenLo,cPurpleLo,cOrangeLo,cYellowLo,cBrownLo],highs:[cRedHi,cBlueHi,cGreenHi,cPurpleHi,cOrangeHi,cYellowHi,cBrownHi]},
 {key:'d',box:[1031,1276.7,15,197],yRef:[0,190,6000,36.7],ylx:990.7,xMax:1.5,xT:xTicks15,xL:xTicks15Labels,yT:dYTicks,yL:dYLabels,gx:xA,bx:xB,means:[dRed,dBlue,dGreen,dPurple,dOrange,dYellow,dBrown],lows:[dRedLo,dBlueLo,dGreenLo,dPurpleLo,dOrangeLo,dYellowLo,dBrownLo],highs:[dRedHi,dBlueHi,dGreenHi,dPurpleHi,dOrangeHi,dYellowHi,dBrownHi]},
 {key:'e',box:[60,305.7,290,471.7],yRef:[0,465,8000,321.7],ylx:19.3,xMax:1.5,xT:xTicks15,xL:xTicks15Labels,yT:eYTicks,yL:eYLabels,gx:xA,bx:xB,bandX:{5:xA,6:xA},means:[eRed,eBlue,eGreen,ePurple,eOrange,eYellow,eBrown],lows:[eRedLo,eBlueLo,eGreenLo,ePurpleLo,eOrangeLo,eYellowLo,eBrownLo],highs:[eRedHi,eBlueHi,eGreenHi,ePurpleHi,eOrangeHi,eYellowHi,eBrownHi]},
 {key:'f',box:[384,629.3,291.7,471.7],yRef:[0,465,4000,292.3],ylx:342.7,xMax:1.5,xT:xTicks15,xL:xTicks15Labels,yT:fYTicks,yL:fYLabels,gx:xA,bx:xB,means:[fRed,fBlue,fGreen,fPurple,fOrange,fYellow,fBrown],lows:[fRedLo,fBlueLo,fGreenLo,fPurpleLo,fOrangeLo,fYellowLo,fBrownLo],highs:[fRedHi,fBlueHi,fGreenHi,fPurpleHi,fOrangeHi,fYellowHi,fBrownHi]},
 {key:'g',box:[702.7,953.3,290,471.7],yRef:[-20,307.3,-80,471.7],ylx:666.7,xMax:1.5,xT:xTicks15,xL:xTicks15Labels,yT:gYTicks,yL:gYLabels,gx:xA,bx:xB,bandX:{1:xA,3:xA,4:xA},means:[gRed,gBlue,gGreen,gPurple,gOrange,gYellow,gBrown],lows:[gRedLo,gBlueLo,gGreenLo,gPurpleLo,gOrangeLo,gYellowLo,gBrownLo],highs:[gRedHi,gBlueHi,gGreenHi,gPurpleHi,gOrangeHi,gYellowHi,gBrownHi]},
 {key:'h',box:[1034,1276.7,290,472],yRef:[-2.5,307.7,-20,472],ylx:990.7,xMax:1.5,xT:xTicks15,xL:xTicks15Labels,yT:hYTicks,yL:hYLabels,gx:xA,bx:xB,bandX:{1:xHBlueBand},means:[hRed,hBlue,hGreen,hPurple,hOrange,hYellow,hBrown],lows:[hRedLo,hBlueLo,hGreenLo,hPurpleLo,hOrangeLo,hYellowLo,hBrownLo],highs:[hRedHi,hBlueHi,hGreenHi,hPurpleHi,hOrangeHi,hYellowHi,hBrownHi]},
 {key:'i',box:[217.3,467.7,576,758.3],yRef:[0,734,150,587.7],ylx:181.7,xMax:1.5,xT:xTicks15,xL:xTicks15Labels,yT:iYTicks,yL:iYLabels,gx:xA,bx:xB,means:[iRed,iBlue,iGreen,iPurple,iOrange,iYellow,iBrown],lows:[iRedLo,iBlueLo,iGreenLo,iPurpleLo,iOrangeLo,iYellowLo,iBrownLo],highs:[iRedHi,iBlueHi,iGreenHi,iPurpleHi,iOrangeHi,iYellowHi,iBrownHi]},
 {key:'j',box:[546,791.7,576,757.3],yRef:[300,596,-100,727.7],ylx:505,xMax:.5,xT:xTicks05,xL:xTicks05Labels,yT:jYTicks,yL:jYLabels,gx:xC,bx:xD,means:[jRed,jBlue,jGreen,jPurple,jOrange,jYellow,jBrown],lows:[jRedLo,jBlueLo,jGreenLo,jPurpleLo,jOrangeLo,jYellowLo,jBrownLo],highs:[jRedHi,jBlueHi,jGreenHi,jPurpleHi,jOrangeHi,jYellowHi,jBrownHi]},
 {key:'k',box:[864.3,1115,576,757.3],yRef:[800,601.7,0,730.7],ylx:828,xMax:.5,xT:xTicks05,xL:xTicks05Labels,yT:kYTicks,yL:kYLabels,gx:xC,bx:xD,brownX:xKBrown,order:[5,4,3,2,1,0,6],legend:true,means:[kRed,kBlue,kGreen,kPurple,kOrange,kYellow,kBrownMean],lows:[kRedLo,kBlueLo,kGreenLo,kPurpleLo,kOrangeLo,kYellowLo,kBrownLo],highs:[kRedHi,kBlueHi,kGreenHi,kPurpleHi,kOrangeHi,kYellowHi,kBrownHi]}
];

function make(tag, attrs, parent){
  const el = document.createElementNS(NS, tag);
  for (const k in attrs) el.setAttribute(k, attrs[k]);
  parent.appendChild(el);
  return el;
}

panels.forEach(function(p){
  const [L,R,T,B] = p.box;
  const [v1,p1,v2,p2] = p.yRef;
  const sx = function(v){ return L + v/p.xMax*(R-L); };
  const sy = function(v){ return p1 + (v-v1)*(p2-p1)/(v2-v1); };

  const g = make('g', {}, plotsGroup);
  
  

  const bg = make('rect', {x:L,y:T,width:R-L,height:B-T,fill:'#eaeaf2'}, g);
  
  

  const clip = make('clipPath', {id:'clip-'+p.key}, g);
  make('rect', {x:L,y:T,width:R-L,height:B-T}, clip);

  p.xT.forEach(function(v,i){
    const gl = make('line', {x1:sx(v),x2:sx(v),y1:T,y2:B,stroke:'#fff','stroke-width':1.2}, g);
    
    
    const tl = make('text', {x:sx(v),y:B+18,'text-anchor':'middle','class':'tick'}, g);
    
    
    tl.textContent = p.xL[i];
  });
  p.yT.forEach(function(v,i){
    const gl = make('line', {x1:L,x2:R,y1:sy(v),y2:sy(v),stroke:'#fff','stroke-width':1.2}, g);
    
    
    const tl = make('text', {x:L-11,y:sy(v)+3,'text-anchor':'end','class':'tick'}, g);
    
    
    tl.textContent = p.yL[i];
  });

  const xt = make('text', {x:(L+R)/2,y:B+31,'text-anchor':'middle','class':'tick'}, g);
  
  
  xt.textContent = xAxisTitle;
  const yt = make('text', {x:0,y:0,'text-anchor':'middle','class':'tick',transform:'translate('+(p.ylx+3)+' '+((T+B)/2)+') rotate(-90)'}, g);
  
  
  yt.textContent = yAxisTitle;

  const content = make('g', {'clip-path':'url(#clip-'+p.key+')'}, g);
  
  
  const order = p.order || [6,5,4,3,2,1,0];

  order.forEach(function(s){
    const grid = (p.bandX && p.bandX[s]) ? p.bandX[s] : p.bx;
    const up = [], down = [];
    grid.forEach(function(x,i){
      if (p.lows[s][i] === null || p.lows[s][i] === undefined) return;
      up.push(sx(x).toFixed(1)+','+sy(p.highs[s][i]).toFixed(1));
      down.unshift(sx(x).toFixed(1)+','+sy(p.lows[s][i]).toFixed(1));
    });
    const band = make('polygon', {points:up.concat(down).join(' '),fill:colors[s],'fill-opacity':.27,stroke:'none'}, content);
    
    
  });

  order.forEach(function(s){
    const xs = (s === 6 && p.brownX) ? p.brownX : p.gx;
    let d = '';
    p.means[s].forEach(function(v,i){
      if (v === null || xs[i] === undefined) return;
      d += (d ? 'L' : 'M') + sx(xs[i]).toFixed(1) + ' ' + sy(v).toFixed(1);
    });
    const line = make('path', {d:d,fill:'none',stroke:colors[s],'stroke-width':1.6,'stroke-linejoin':'round'}, content);
    
    
  });

  if (p.legend) {
    const lg = make('g', {}, g);
    
    
    seriesNames.forEach(function(name,i){
      const col = i < 4 ? 0 : 1;
      const row = i < 4 ? i : i - 4;
      const lx = col === 0 ? 980.7 : 1059;
      const ly = 709 + row*12.3;
      const entry = make('g', {}, lg);
      
      
      make('line', {x1:lx,x2:lx+18,y1:ly,y2:ly,stroke:colors[i],'stroke-width':1.35}, entry);
      const tx = make('text', {x:lx+25,y:ly+3,'class':'tick'}, entry);
      tx.textContent = name;
    });
  }
});
</script>
</body>
</html>
